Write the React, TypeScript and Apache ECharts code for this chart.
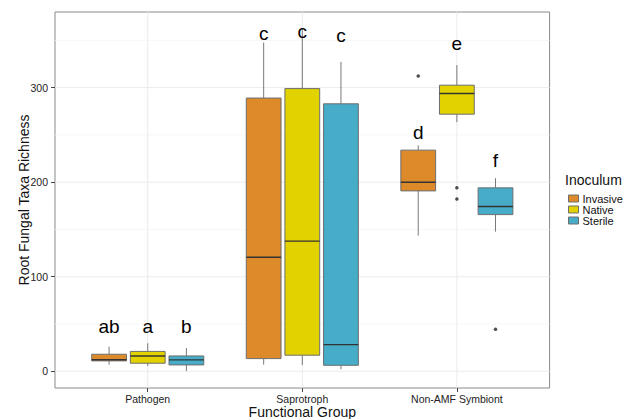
import React, { useEffect, useRef } from "react";
import * as echarts from "echarts";

const categories = ["Pathogen", "Saprotroph", "Non-AMF Symbiont"];
const inocula = ["Invasive", "Native", "Sterile"];
const colors = ["#DD8A2B", "#E2D200", "#46ACC8"];

// [min, q1, median, q3, max] per category
const invasiveStats = [
  [7, 11, 12.2, 18, 26],
  [7, 13.4, 120.6, 289, 347.7],
  [143.5, 190.8, 200, 233.9, 239],
];
const nativeStats = [
  [5.6, 8.5, 16.2, 21, 29.6],
  [6.7, 17, 137.6, 299, 362],
  [263.5, 271.9, 293.8, 302.6, 323.8],
];
const sterileStats = [
  [0.3, 6.7, 12, 16.2, 24.6],
  [2.1, 6.3, 28.2, 282.9, 327.3],
  [147.7, 165.7, 174.2, 194, 204.2],
];

// outliers: [categoryIndex, value]
const invasiveOutliers = [[2, 312.2]];
const nativeOutliers = [[2, 194], [2, 182.3]];
const sterileOutliers = [[2, 44.4]];

// significance letters and their heights
const invasiveLetters = ["ab", "c", "d"];
const invasiveLetterY = [47, 357, 253];
const nativeLetters = ["a", "c", "e"];
const nativeLetterY = [47, 359, 347];
const sterileLetters = ["b", "c", "f"];
const sterileLetterY = [47, 355, 223];

const yTicks = [0, 100, 200, 300];
const yMinorGrid = [50, 150, 250, 350];
const xTicks = [1, 2, 3];

const allStats = [invasiveStats, nativeStats, sterileStats];
const allOutliers = [invasiveOutliers, nativeOutliers, sterileOutliers];
const allLetters = [invasiveLetters, nativeLetters, sterileLetters];
const allLetterY = [invasiveLetterY, nativeLetterY, sterileLetterY];

const X_MIN = 0.4;
const X_MAX = 3.6;
const Y_MIN = -17.7;
const Y_MAX = 380;
const DODGE = 0.25;
const BOX_W = 0.225;
const FONT = "'Liberation Sans', Arial, sans-serif";

export default function App() {
  const ref = useRef<HTMLDivElement>(null);
  useEffect(() => {
    if (!ref.current) return;
    const chart = echarts.init(ref.current, null, { renderer: "svg" });

    const xPos = (cat: number, grp: number) => cat + 1 + (grp - 1) * DODGE;

    const gridSeries: any = {
      type: "custom",
      name: "grid",
      silent: true,
      z: 0,
      data: [
        ...yMinorGrid.map((v) => [0, v, 0]),
        ...yTicks.map((v) => [0, v, 1]),
        ...xTicks.map((v) => [1, v, 1]),
      ],
      encode: { x: -1, y: -1 },
      renderItem: (params: any, api: any) => {
        const dir = api.value(0);
        const v = api.value(1);
        const major = api.value(2) === 1;
        let p1, p2;
        if (dir === 0) {
          p1 = api.coord([X_MIN, v]);
          p2 = api.coord([X_MAX, v]);
        } else {
          p1 = api.coord([v, Y_MIN]);
          p2 = api.coord([v, Y_MAX]);
        }
        return {
          type: "line",
          shape: { x1: p1[0], y1: p1[1], x2: p2[0], y2: p2[1] },
          style: { stroke: major ? "#ebebeb" : "#f5f5f5", lineWidth: major ? 1 : 0.8 },
        };
      },
    };

    const boxSeries = inocula.map((name, g) => ({
      type: "custom",
      name,
      z: 2,
      itemStyle: { color: colors[g] },
      data: allStats[g].map((s, c) => [xPos(c, g), ...s]),
      encode: { x: 0, y: [1, 2, 3, 4, 5] },
      renderItem: (params: any, api: any) => {
        const x = api.value(0);
        const pMin = api.coord([x, api.value(1)]);
        const pQ1 = api.coord([x, api.value(2)]);
        const pMed = api.coord([x, api.value(3)]);
        const pQ3 = api.coord([x, api.value(4)]);
        const pMax = api.coord([x, api.value(5)]);
        const hw = api.size([BOX_W, 0])[0] / 2;
        const cx = pMed[0];
        const wStyle = { stroke: "#7a7a7a", lineWidth: 1 };
        return {
          type: "group",
          children: [
            { type: "line", shape: { x1: cx, y1: pMax[1], x2: cx, y2: pQ3[1] }, style: wStyle },
            { type: "line", shape: { x1: cx, y1: pQ1[1], x2: cx, y2: pMin[1] }, style: wStyle },
            {
              type: "rect",
              shape: { x: cx - hw, y: pQ3[1], width: hw * 2, height: pQ1[1] - pQ3[1] },
              style: { fill: colors[g], stroke: "#6e6e6e", lineWidth: 1 },
            },
            {
              type: "line",
              shape: { x1: cx - hw, y1: pMed[1], x2: cx + hw, y2: pMed[1] },
              style: { stroke: "#333333", lineWidth: 1.4 },
            },
          ],
        };
      },
    }));

    const outlierSeries = inocula.map((name, g) => ({
      type: "scatter",
      name: name + " outliers",
      z: 3,
      symbolSize: 3.5,
      itemStyle: { color: "#222222" },
      data: allOutliers[g].map((o) => [xPos(o[0], g), o[1]]),
    }));

    const letterSeries = inocula.map((name, g) => ({
      type: "custom",
      name: name + " letters",
      z: 4,
      data: allLetters[g].map((l, c) => [xPos(c, g), allLetterY[g][c], l]),
      encode: { x: 0, y: 1 },
      renderItem: (params: any, api: any) => {
        const p = api.coord([api.value(0), api.value(1)]);
        const text = allLetters[g][params.dataIndex];
        return {
          type: "text",
          x: p[0],
          y: p[1],
          style: {
            text,
            fill: "#000",
            fontSize: 19,
            fontFamily: FONT,
            align: "center",
            verticalAlign: "middle",
          },
        };
      },
    }));

    chart.setOption({
      animation: false,
      backgroundColor: "#ffffff",
      textStyle: { fontFamily: FONT },
      title: {
        text: "Inoculum",
        left: 565,
        top: 173,
        padding: 0,
        textStyle: { fontSize: 14, fontWeight: "normal", color: "#111", fontFamily: FONT },
      },
      legend: {
        data: inocula,
        orient: "vertical",
        left: 568,
        top: 193,
        padding: 0,
        itemGap: 0,
        itemWidth: 10,
        itemHeight: 7,
        icon: "rect",
        selectedMode: false,
        itemStyle: { borderColor: "#6e6e6e", borderWidth: 1 },
        textStyle: {
          fontSize: 11,
          lineHeight: 11,
          height: 11,
          color: "#111",
          fontFamily: FONT,
          padding: [0, 0, 0, -1],
        },
      },
      grid: {
        left: 55,
        top: 12,
        width: 494.6,
        height: 376,
        show: true,
        borderColor: "#8a8a8a",
        borderWidth: 1,
        backgroundColor: "transparent",
        outerBoundsMode: "none",
        containLabel: false,
      },
      xAxis: {
        type: "value",
        min: X_MIN,
        max: X_MAX,
        name: "Functional Group",
        nameLocation: "middle",
        nameGap: 17,
        nameMoveOverlap: false,
        nameTextStyle: { fontSize: 14, color: "#111", fontFamily: FONT },
        axisLine: { show: false, onZero: false },
        splitLine: { show: false },
        axisTick: { show: true, customValues: xTicks, length: 4, lineStyle: { color: "#444" } },
        axisLabel: {
          customValues: xTicks,
          margin: 5,
          fontSize: 10.5,
          color: "#222",
          fontFamily: FONT,
          formatter: (v: number) => categories[Math.round(v) - 1] ?? "",
        },
      },
      yAxis: {
        type: "value",
        min: Y_MIN,
        max: Y_MAX,
        name: "Root Fungal Taxa Richness",
        nameLocation: "middle",
        nameGap: 24,
        nameMoveOverlap: false,
        nameTextStyle: { fontSize: 14, color: "#111", fontFamily: FONT },
        axisLine: { show: false, onZero: false },
        splitLine: { show: false },
        axisTick: { show: true, customValues: yTicks, length: 4, lineStyle: { color: "#444" } },
        axisLabel: {
          customValues: yTicks,
          margin: 7,
          fontSize: 10.5,
          color: "#222",
          fontFamily: FONT,
        },
      },
      series: [gridSeries, ...boxSeries, ...outlierSeries, ...letterSeries],
    });

    return () => chart.dispose();
  }, []);

  return (
    <div
      ref={ref}
      style={{ position: "fixed", left: 0, top: 0, width: 637, height: 419, background: "#fff" }}
    />
  );
}
